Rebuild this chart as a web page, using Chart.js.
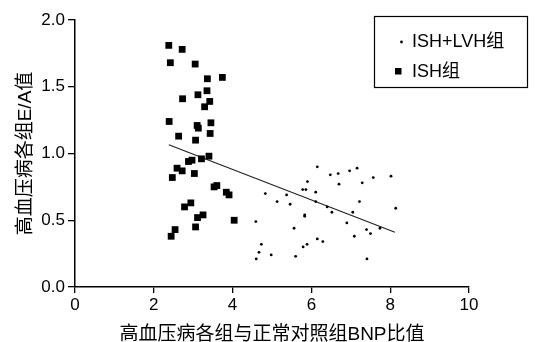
<!DOCTYPE html>
<html>
<head>
<meta charset="utf-8">
<script src="https://cdn.jsdelivr.net/npm/chart.js@4"></script>
<style>
  html, body { margin: 0; padding: 0; background: #fff; }
  #wrap { width: 535px; height: 342px; }
</style>
</head>
<body>
<div id="wrap"><canvas id="chart" width="535" height="342"></canvas></div>
<script>
// ISH组 (squares)
const ishX = [2.38, 2.72, 2.42, 3.05, 3.36, 3.74, 3.35, 3.12, 2.73, 3.42, 3.29, 2.39, 3.45, 3.10, 3.13, 2.63, 3.43, 3.06,
              3.40, 3.21, 2.88, 2.97, 2.59, 2.72, 3.03, 2.47, 3.53, 3.60, 3.84, 3.91, 2.78, 2.94, 4.04, 3.11, 3.25, 3.06, 2.54, 2.44]
const ishY = [1.81, 1.78, 1.68, 1.67, 1.56, 1.57, 1.47, 1.44, 1.41, 1.39, 1.35, 1.24, 1.23, 1.21, 1.19, 1.13, 1.15, 1.10,
              0.98, 0.96, 0.94, 0.95, 0.89, 0.87, 0.85, 0.82, 0.75, 0.76, 0.71, 0.69, 0.60, 0.63, 0.50, 0.52, 0.54, 0.45, 0.43, 0.38]

// ISH+LVH组 (small dots)
const lvhX = [6.15, 6.48, 6.68, 6.97, 7.16, 8.02, 7.57, 7.29, 6.70, 5.90, 5.78, 5.86, 6.11, 4.83, 5.37, 5.13, 5.46, 6.11,
              7.22, 6.40, 6.52, 7.05, 8.14, 5.83, 5.83, 4.59, 6.90, 5.56, 7.40, 7.50, 7.74, 7.09, 6.15, 6.29, 4.73, 5.89,
              5.79, 4.67, 4.98, 5.60, 4.60, 7.41]
const lvhY = [0.90, 0.84, 0.85, 0.87, 0.89, 0.83, 0.82, 0.78, 0.77, 0.79, 0.73, 0.73, 0.71, 0.70, 0.69, 0.64, 0.62, 0.64,
              0.64, 0.60, 0.56, 0.56, 0.59, 0.54, 0.53, 0.49, 0.48, 0.44, 0.43, 0.40, 0.44, 0.38, 0.36, 0.34, 0.32, 0.32,
              0.30, 0.26, 0.24, 0.23, 0.21, 0.21]

// regression line end points
const fitX = [2.38, 8.12]
const fitY = [1.066, 0.41]

const xTicks = [0, 2, 4, 6, 8, 10]
const yTicks = [0.0, 0.5, 1.0, 1.5, 2.0]

const FONT = '"Liberation Sans", Arial, "Noto Sans CJK SC", sans-serif'
const toPts = (xs, ys) => xs.map((x, i) => ({ x: x, y: ys[i] }))

const boxLegend = {
    id: 'boxLegend',
    afterDraw(chart) {
        const { ctx } = chart
        ctx.save()
        ctx.strokeStyle = '#000'
        ctx.lineWidth = 1.2
        ctx.strokeRect(374.5, 16.5, 153, 71)
        ctx.fillStyle = '#000'
        ctx.beginPath()
        ctx.arc(401.5, 42, 1.4, 0, Math.PI * 2)
        ctx.fill()
        ctx.fillRect(395, 68, 6.5, 6.5)
        ctx.font = '18px ' + FONT
        ctx.textBaseline = 'middle'
        ctx.fillText(chart.data.datasets[1].label, 412, 42)
        ctx.fillText(chart.data.datasets[0].label, 412, 72)
        ctx.restore()
    }
}

new Chart(document.getElementById('chart'), {
    type: 'scatter',
    data: {
        datasets: [{
            label: 'ISH组',
            data: toPts(ishX, ishY),
            pointStyle: 'rect',
            pointRadius: 4.8,
            backgroundColor: '#000',
            borderColor: '#000',
            borderWidth: 0
        }, {
            label: 'ISH+LVH组',
            data: toPts(lvhX, lvhY),
            pointStyle: 'circle',
            pointRadius: 1.4,
            backgroundColor: '#000',
            borderColor: '#000',
            borderWidth: 0
        }, {
            label: 'fit',
            type: 'line',
            data: toPts(fitX, fitY),
            borderColor: '#222',
            borderWidth: 1.2,
            pointRadius: 0,
            fill: false
        }]
    },
    plugins: [boxLegend],
    options: {
        responsive: false,
        animation: false,
        layout: { padding: { left: 0, top: 20, right: 66, bottom: 0 } },
        plugins: {
            legend: { display: false },
            tooltip: { enabled: false }
        },
        scales: {
            x: {
                type: 'linear',
                min: 0,
                max: 10,
                afterBuildTicks: s => { s.ticks = xTicks.map(v => ({ value: v })) },
                afterFit: s => { s.height = 55 },
                ticks: { color: '#000', font: { size: 17, family: FONT }, padding: 2, maxRotation: 0 },
                grid: { drawOnChartArea: false, drawTicks: true, tickLength: 6, color: '#000', lineWidth: 1.3 },
                border: { display: true, color: '#000', width: 1.5 },
                title: { display: true, text: '高血压病各组与正常对照组BNP比值', color: '#000',
                         font: { size: 19, family: FONT }, padding: { top: 0, bottom: -4 } }
            },
            y: {
                type: 'linear',
                min: 0,
                max: 2,
                afterBuildTicks: s => { s.ticks = yTicks.map(v => ({ value: v })) },
                afterFit: s => { s.width = 75 },
                ticks: { color: '#000', font: { size: 17, family: FONT }, padding: 3,
                         callback: v => Number(v).toFixed(1) },
                grid: { drawOnChartArea: false, drawTicks: true, tickLength: 7, color: '#000', lineWidth: 1.3 },
                border: { display: true, color: '#000', width: 1.5 },
                title: { display: true, text: '高血压病各组E/A值', color: '#000',
                         font: { size: 19, family: FONT }, padding: { top: 14, bottom: 0 } }
            }
        }
    }
})
</script>
</body>
</html>
